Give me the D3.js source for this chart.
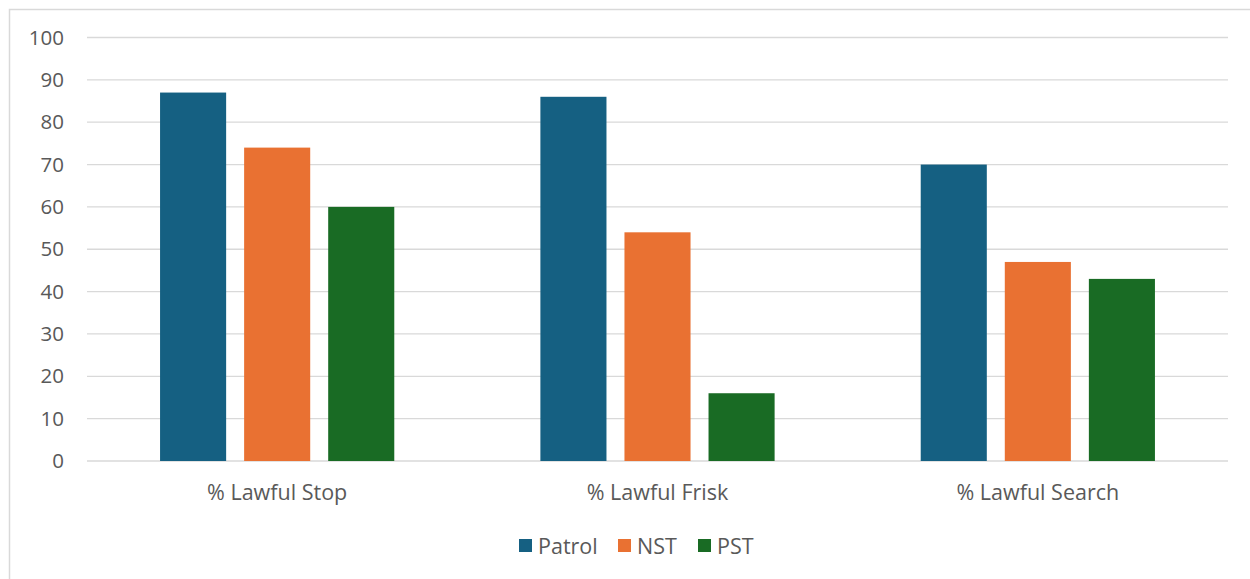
<!DOCTYPE html>
<html>
<head>
<meta charset="utf-8">
<script src="https://cdn.jsdelivr.net/npm/d3@7"></script>
<style>
  html, body { margin: 0; padding: 0; background: #fff; }
  svg { display: block; font-family: "Open Sans", "Inter", "Liberation Sans", sans-serif; }
</style>
</head>
<body>
<svg id="chart" width="1250" height="579"></svg>
<script>
const categories = ["% Lawful Stop", "% Lawful Frisk", "% Lawful Search"];
const seriesNames = ["Patrol", "NST", "PST"];
const patrol = [87, 86, 70];
const nst = [74, 54, 47];
const pst = [60, 16, 43];
const yTicks = [0, 10, 20, 30, 40, 50, 60, 70, 80, 90, 100];
const seriesColors = ["#156082", "#E97132", "#196B24"];

const seriesValues = [patrol, nst, pst];
const svg = d3.select("#chart");
const W = 1250, H = 579;
const FONT = "'Open Sans', Inter, sans-serif";

// outer chart frame
svg.append("rect")
  .attr("x", 9.5).attr("y", 9.5)
  .attr("width", W + 10).attr("height", H + 10)
  .attr("fill", "#fff").attr("stroke", "#d9d9d9").attr("stroke-width", 1.5);

const plot = { left: 87, right: 1228, top: 37.5, bottom: 461 };

const x0 = d3.scaleBand().domain(categories).range([plot.left, plot.right]);
const x1 = d3.scaleBand().domain(seriesNames)
  .range([0, x0.bandwidth()]).paddingInner(0.214).paddingOuter(0.869);
const y = d3.scaleLinear().domain([0, 100]).range([plot.bottom, plot.top]);

// gridlines
svg.append("g").selectAll("line").data(yTicks).join("line")
  .attr("x1", plot.left).attr("x2", plot.right)
  .attr("y1", d => y(d)).attr("y2", d => y(d))
  .attr("stroke", "#d9d9d9").attr("stroke-width", 1.3);

// y axis labels
const yAxis = d3.axisLeft(y).tickValues(yTicks).tickSize(0).tickPadding(0);
const gy = svg.append("g").attr("transform", `translate(${plot.left - 23},0)`).call(yAxis);
gy.select(".domain").remove();
gy.selectAll("text").attr("font-size", 20.5).attr("fill", "#595959")
  .attr("font-family", FONT);

// bars
const groups = svg.append("g").selectAll("g").data(categories).join("g")
  .attr("transform", d => `translate(${x0(d)},0)`);
groups.selectAll("rect")
  .data((c, i) => seriesNames.map((s, j) => ({ s, v: seriesValues[j][i], color: seriesColors[j] })))
  .join("rect")
  .attr("x", d => x1(d.s))
  .attr("width", x1.bandwidth())
  .attr("y", d => y(d.v))
  .attr("height", d => y(0) - y(d.v))
  .attr("fill", d => d.color);

// category axis
const xAxis = d3.axisBottom(x0).tickSize(0).tickPadding(0);
const gx = svg.append("g").attr("transform", `translate(0,${plot.bottom + 39})`).call(xAxis);
gx.select(".domain").remove();
gx.selectAll("text").attr("font-size", 21.5).attr("fill", "#595959")
  .attr("dy", 0).attr("font-family", FONT);

// legend
const legendX = [519, 618, 698];
const lg = svg.append("g").selectAll("g").data(seriesNames).join("g")
  .attr("transform", (d, i) => `translate(${legendX[i]},539)`);
lg.append("rect").attr("width", 13).attr("height", 13).attr("fill", (d, i) => seriesColors[i]);
lg.append("text").attr("x", 19).attr("y", 14.5).text(d => d)
  .attr("font-size", 21.5).attr("fill", "#595959").attr("font-family", FONT);
</script>
</body>
</html>
